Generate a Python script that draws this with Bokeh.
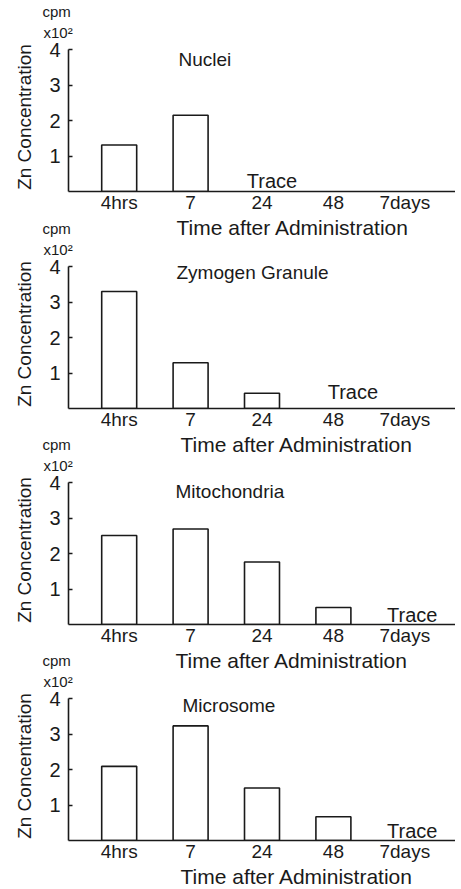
from bokeh.plotting import figure
from bokeh.models import FactorRange, Range1d, FixedTicker, Label, Title, ColumnDataSource
from bokeh.layouts import column
from bokeh.embed import file_html
from bokeh.resources import INLINE
from bokeh.core.properties import value

# ---------------- data ----------------
categories = ["4hrs", "7", "24", "48", "7days"]
panel_titles = ["Nuclei", "Zymogen Granule", "Mitochondria", "Microsome"]
nuclei = [1.31, 2.15, None, None, None]
zymogen = [3.30, 1.29, 0.43, None, None]
mitochondria = [2.51, 2.69, 1.76, 0.48, None]
microsome = [2.09, 3.23, 1.48, 0.67, None]
y_ticks = [1, 2, 3, 4]
trace_text = "Trace"
x_title = "Time after Administration"
y_title = "Zn Concentration"
unit_line1 = "cpm"
unit_line2 = "x10\u00b2"

# ---------------- layout / style ----------------
FONT = "Liberation Sans"
INK = "#1a1a1a"
W = 455
Y_MAX = 4.2          # a little head-room above the "4" tick for the panel names
TOP = 42
FRAME_H = 150
BOTTOM = 48
H = TOP + FRAME_H + BOTTOM
PITCHES = [217, 216, 216]
title_dx = [110, 108, 107, 114]
title_lift = [132, 136, 133, 135]
trace_dx = [10, 19.5, 7.5, 7.5]
trace_lift = [11, 17, 10, 10]
xtitle_dx = [108, 112, 107, 112]

series = [nuclei, zymogen, mitochondria, microsome]


def make_panel(i, title, vals):
    p = figure(width=W, height=H,
               x_range=FactorRange(*categories, range_padding=0.21,
                                   range_padding_units="absolute"),
               y_range=Range1d(0, Y_MAX),
               output_backend="svg", toolbar_location=None,
               title_location=None,
               min_border_left=68, min_border_right=0,
               min_border_top=TOP, min_border_bottom=BOTTOM)
    p.outline_line_color = None
    p.background_fill_color = None
    p.border_fill_color = None
    p.xgrid.visible = False
    p.ygrid.visible = False

    xs = [c for c, v in zip(categories, vals) if v is not None]
    tops = [v for v in vals if v is not None]
    src = ColumnDataSource(dict(x=xs, top=tops))
    p.vbar(x="x", top="top", bottom=0, width=0.49, source=src,
           fill_color="white", line_color=INK, line_width=1.6)

    trace_cat = [c for c, v in zip(categories, vals) if v is None][0]
    p.text(x=[trace_cat], y=[0], text=[trace_text],
           x_offset=trace_dx[i], y_offset=-trace_lift[i],
           text_align="center", text_baseline="middle",
           text_font=value(FONT), text_font_size="20px", text_color=INK)

    # axes
    xa = p.xaxis[0]
    xa.axis_line_color = INK
    xa.axis_line_width = 1.6
    xa.major_tick_line_color = None
    xa.major_tick_out = 0
    xa.major_tick_in = 0
    xa.minor_tick_line_color = None
    xa.major_label_standoff = 0
    xa.major_label_text_font = FONT
    xa.major_label_text_font_size = "19px"
    xa.major_label_text_color = INK

    ya = p.yaxis[0]
    ya.ticker = FixedTicker(ticks=y_ticks)
    ya.bounds = (0, max(y_ticks))
    ya.axis_line_color = INK
    ya.axis_line_width = 1.6
    ya.major_tick_line_color = INK
    ya.major_tick_line_width = 1.4
    ya.major_tick_in = 4
    ya.major_tick_out = 0
    ya.minor_tick_line_color = None
    ya.major_label_standoff = 8
    ya.major_label_text_font = FONT
    ya.major_label_text_font_size = "20px"
    ya.major_label_text_color = INK
    ya.axis_label = y_title
    ya.axis_label_text_font = FONT
    ya.axis_label_text_font_size = "19px"
    ya.axis_label_text_font_style = "normal"
    ya.axis_label_text_color = INK
    ya.axis_label_standoff = 11

    tstyle = dict(text_font=FONT, text_font_style="normal", text_color=INK,
                  align="left")
    p.add_layout(Title(text=unit_line2, offset=-25, standoff=4,
                       text_font_size="15px", **tstyle), "above")
    p.add_layout(Title(text=unit_line1, offset=-26, standoff=0,
                       text_font_size="15px", **tstyle), "above")
    p.add_layout(Title(text=x_title, offset=xtitle_dx[i], standoff=0,
                       vertical_align="top", text_font_size="21px",
                       **tstyle), "below")

    p.add_layout(Label(x=title_dx[i], y=title_lift[i], x_units="screen",
                       y_units="screen", text=title, text_font=FONT,
                       text_font_size="19px", text_baseline="middle",
                       text_color=INK))
    return p


figs = []
for i, (t, v) in enumerate(zip(panel_titles, series)):
    f = make_panel(i, t, v)
    if i < len(series) - 1:
        f.margin = (0, 0, PITCHES[i] - H, 0)
    figs.append(f)

layout = column(*figs)
open("out.html", "w").write(file_html(layout, INLINE))
